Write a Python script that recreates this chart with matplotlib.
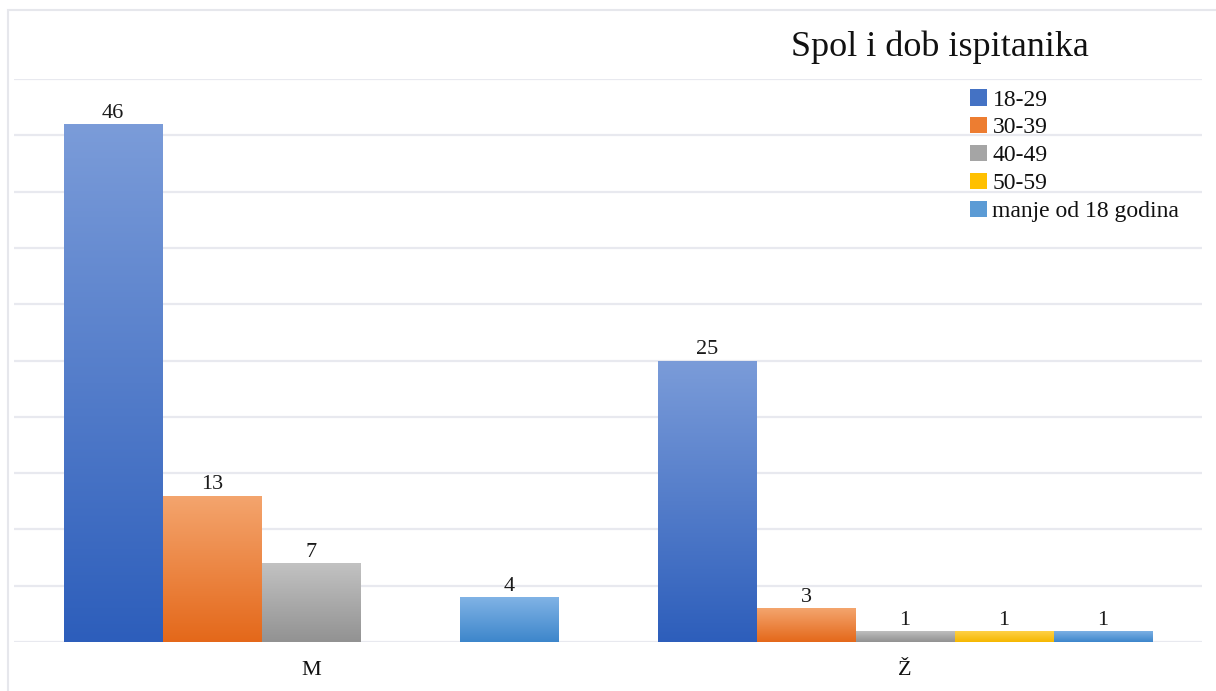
import matplotlib.pyplot as plt
import numpy as np
from matplotlib.colors import LinearSegmentedColormap
from matplotlib.patches import Patch, Rectangle

plt.rcParams["font.family"] = ["Liberation Serif", "DejaVu Serif"]

# ---------------------------------------------------------------------------
# Data
# ---------------------------------------------------------------------------
categories = ["M", "Ž"]
series_names = ["18-29", "30-39", "40-49", "50-59", "manje od 18 godina"]
values_m = [46, 13, 7, None, 4]
values_z = [25, 3, 1, 1, 1]
title = "Spol i dob ispitanika"

# top / bottom colours of the gradient fill, plus legend colour
grad_top = ["#7b9cd9", "#f4a56e", "#c2c2c2", "#ffd34d", "#82b4e6"]
grad_bottom = ["#2d5ebb", "#e4681a", "#929292", "#f5b700", "#3d86cb"]
legend_colors = ["#4472c4", "#ed7d31", "#a5a5a5", "#ffc000", "#5b9bd5"]

W, H = 1216, 691
fig = plt.figure(figsize=(W / 100, H / 100), dpi=100)

# light outer border (left and top visible)
fig.patches.append(
    Rectangle((8 / W, -0.1), 1.2, 1 - 10 / H + 0.1, transform=fig.transFigure,
              fill=False, edgecolor="#e6e7ec", linewidth=1.5, zorder=0)
)

ax = fig.add_axes([14 / W, 1 - 642 / H, (1202 - 14) / W, (642 - 79) / H])
ax.set_xlim(-0.5, 1.5)
ax.set_ylim(0, 50)
ax.set_autoscale_on(False)

for s in ax.spines.values():
    s.set_visible(False)
ax.set_yticks(np.arange(0, 51, 5))
ax.set_yticklabels([])
ax.tick_params(axis="y", length=0)
ax.grid(axis="y", color="#e8e9ef", linewidth=1.6)
ax.set_axisbelow(True)

ax.set_xticks(range(len(categories)))
ax.set_xticklabels(categories, fontsize=16, color="#111111")
ax.tick_params(axis="x", length=0, pad=14)

n = len(series_names)
width = 1 / 6
grad = np.linspace(0, 1, 256).reshape(-1, 1)

for i, name in enumerate(series_names):
    cmap = LinearSegmentedColormap.from_list(name, [grad_top[i], grad_bottom[i]])
    offset = (i - (n - 1) / 2) * width
    for ci, vals in enumerate([values_m, values_z]):
        v = vals[i]
        if v is None:
            continue
        x0 = ci + offset - width / 2
        bar = ax.bar(ci + offset, v, width=width, color=legend_colors[i],
                     edgecolor="none", zorder=2)[0]
        img = ax.imshow(grad, cmap=cmap, aspect="auto", origin="upper",
                        extent=[x0, x0 + width, 0, v], zorder=3)
        img.set_clip_path(bar)
        ax.text(ci + offset, v + 0.1, str(v), ha="center", va="bottom",
                fontsize=16, color="#1a1a1a", zorder=4)

ax.set_xlim(-0.5, 1.5)
ax.set_ylim(0, 50)

fig.text(940 / W, 1 - 47 / H, title, ha="center", va="center",
         fontsize=26, color="#111111")

handles = [Patch(facecolor=c, edgecolor="none") for c in legend_colors]
fig.legend(handles, series_names, loc="upper left",
           bbox_to_anchor=(970 / W, 1 - 89 / H), frameon=False,
           fontsize=17, handlelength=0.7, handleheight=0.7,
           handletextpad=0.25, labelspacing=0.27, borderpad=0,
           borderaxespad=0, labelcolor="#111111")

fig.savefig("out.png", dpi=100)
